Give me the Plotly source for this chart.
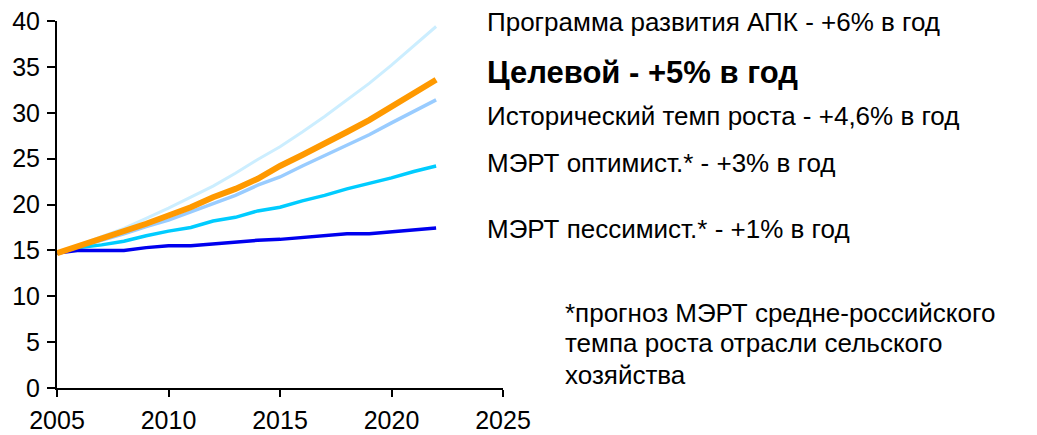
import plotly.graph_objects as go

years = list(range(2005, 2023))

prog_apk = [14.7, 15.6, 16.5, 17.4, 18.5, 19.6, 20.8, 22.0, 23.4, 24.9, 26.3, 27.9, 29.6, 31.4, 33.2, 35.2, 37.3, 39.4]
target = [14.7, 15.5, 16.2, 17.0, 17.9, 18.8, 19.7, 20.8, 21.7, 22.8, 24.2, 25.4, 26.6, 27.9, 29.2, 30.7, 32.1, 33.6]
historic = [14.7, 15.4, 16.1, 16.8, 17.6, 18.3, 19.2, 20.1, 21.0, 22.1, 23.0, 24.2, 25.3, 26.5, 27.6, 28.9, 30.2, 31.4]
mert_opt = [14.7, 15.3, 15.6, 16.0, 16.6, 17.1, 17.5, 18.2, 18.6, 19.3, 19.7, 20.4, 21.0, 21.7, 22.3, 22.9, 23.6, 24.2]
mert_pes = [14.7, 15.0, 15.0, 15.0, 15.3, 15.5, 15.5, 15.7, 15.9, 16.1, 16.2, 16.4, 16.6, 16.8, 16.8, 17.0, 17.2, 17.45]

labels = [
    "Программа развития АПК - +6% в год",
    "Целевой - +5% в год",
    "Исторический темп роста - +4,6% в год",
    "МЭРТ оптимист.* - +3% в год",
    "МЭРТ пессимист.* - +1% в год",
]
label_y = [39.9, 34.4, 29.7, 24.5, 17.3]
note_lines = ["*прогноз МЭРТ средне-российского", "темпа роста отрасли сельского", "хозяйства"]
note_y = [8.2, 4.9, 1.4]

FONT = "Liberation Sans, Arial, sans-serif"

fig = go.Figure()
series = [
    (prog_apk, "#cceeff", 3),
    (historic, "#99ccff", 3.5),
    (mert_opt, "#00ccff", 3.5),
    (mert_pes, "#0000ee", 3.5),
    (target, "#ff9900", 6),
]
for vals, color, w in series:
    fig.add_trace(go.Scatter(x=years, y=vals, mode="lines",
                             line=dict(color=color, width=w), showlegend=False))

for i, (txt, yv) in enumerate(zip(labels, label_y)):
    bold = i == 1
    fig.add_annotation(x=2024.2, y=yv, xref="x", yref="y", text=f"<b>{txt}</b>" if bold else txt,
                       showarrow=False, xanchor="left", yanchor="middle",
                       font=dict(size=31 if bold else 26, color="black", family=FONT))

# footnote sits right of the axis range, so place it in paper coords
for txt, yv in zip(note_lines, note_y):
    fig.add_annotation(x=1.134, y=yv, xref="paper", yref="y", text=txt, showarrow=False,
                       xanchor="left", yanchor="middle",
                       font=dict(size=26, color="black", family=FONT))

tick_font = dict(family=FONT, size=25, color="black")

# page body has an 8px margin, so the figure is shrunk/shifted to fit the window
fig.update_layout(
    width=1029, height=427,
    margin=dict(l=49, r=534, t=13, b=47),
    plot_bgcolor="white", paper_bgcolor="white",
    font=dict(family=FONT, size=24, color="black"),
    xaxis=dict(range=[2005, 2025], tickvals=[2005, 2010, 2015, 2020, 2025], showgrid=False,
               zeroline=False, showline=True, linecolor="black", linewidth=2, automargin=False,
               ticks="outside", ticklen=7, tickwidth=2, tickcolor="black", ticklabelstandoff=2,
               tickfont=tick_font, ticklabeloverflow="allow"),
    yaxis=dict(range=[0, 40], dtick=5, showgrid=False, zeroline=False, showline=True,
               linecolor="black", linewidth=2, automargin=False, ticks="outside", ticklen=8,
               tickwidth=2, tickcolor="black", ticklabelstandoff=2, tickfont=tick_font,
               ticklabeloverflow="allow"),
)

fig.write_html("out.html")
